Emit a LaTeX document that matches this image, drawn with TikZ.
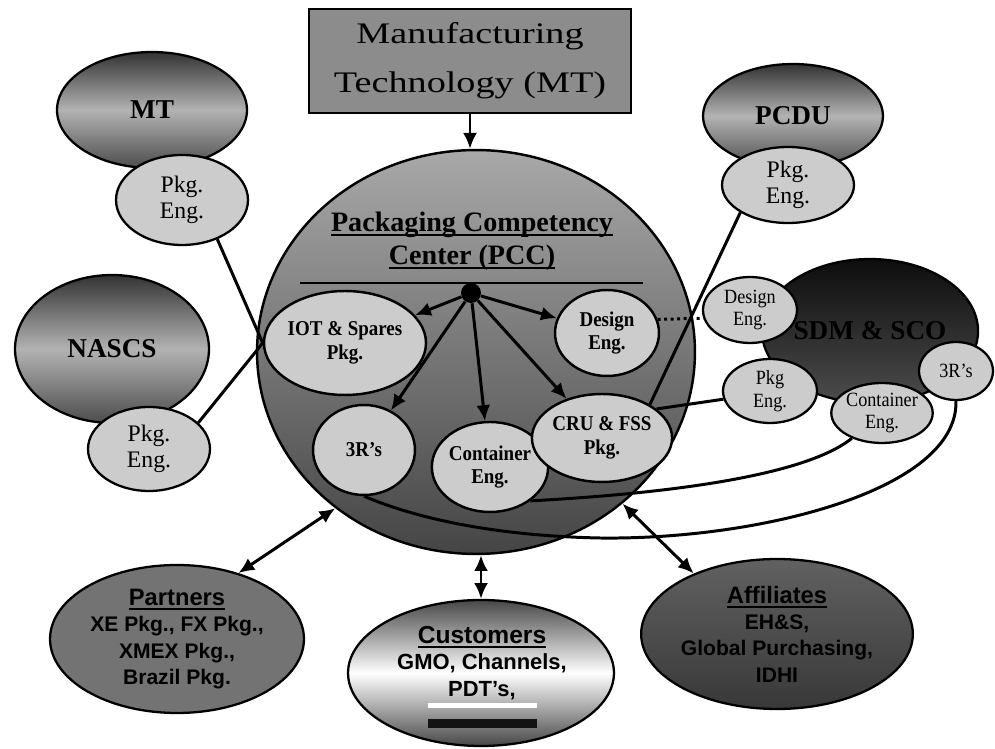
\documentclass[tikz,border=0pt]{standalone}
\usepackage{fontspec}
\setmainfont{Liberation Serif}
\newfontfamily\arialfont{Liberation Sans}
\newfontfamily\widefont[FakeStretch=1.28]{Liberation Serif}
\newfontfamily\narrowfont[FakeStretch=0.9]{Liberation Serif}
\usetikzlibrary{shapes.geometric,arrows.meta}

\newsavebox{\undlbox}
\newcommand{\undl}[1]{\sbox{\undlbox}{#1}\rlap{\rule[-2.6pt]{\wd\undlbox}{1.1pt}}\usebox{\undlbox}}

\definecolor{boxgray}{gray}{0.55}
\definecolor{lightfill}{gray}{0.8}
\definecolor{shadetop}{gray}{0.2}
\definecolor{shademid}{gray}{0.7}
\definecolor{shadebot}{gray}{0.3}
\definecolor{pcctop}{gray}{0.66}
\definecolor{pccbot}{gray}{0.27}
\definecolor{partnergray}{gray}{0.45}
\definecolor{custdark}{gray}{0.28}
\definecolor{afftop}{gray}{0.38}
\definecolor{affbot}{gray}{0.22}

\begin{document}
\begin{tikzpicture}[x=0.02cm,y=-0.02cm,
    outer/.style={ellipse,draw,line width=1.3pt,inner sep=0pt,
      top color=shadetop,bottom color=shadebot,middle color=shademid,
      font=\fontsize{15.5}{18}\selectfont\bfseries},
    pkgeng/.style={ellipse,draw,line width=1.3pt,inner sep=0pt,fill=lightfill,
      align=center,font=\fontsize{13.5}{15}\selectfont},
    sdmsub/.style={ellipse,draw,line width=1.3pt,inner sep=0pt,fill=lightfill,
      align=center,font=\narrowfont\fontsize{11.5}{13}\selectfont},
    unit/.style={ellipse,draw,line width=1.4pt,inner sep=0pt,fill=lightfill,
      align=center,font=\narrowfont\fontsize{12}{13.5}\selectfont\bfseries},
    group/.style={ellipse,draw,line width=1.3pt,inner sep=0pt,align=center,
      font=\arialfont\bfseries\fontsize{12}{15}\selectfont},
    conn/.style={line width=1.7pt},
    arr/.style={conn,-{Latex[length=9pt,width=8pt]}},
    dbl/.style={conn,{Latex[length=9pt,width=8pt]}-{Latex[length=9pt,width=8pt]}}]
  \useasboundingbox (0,0) rectangle (995,749);

  % Kopf
  \node[draw,line width=1.3pt,fill=boxgray,minimum width=6.44cm,minimum height=2.08cm,
    align=center,font=\widefont\fontsize{17}{28}\selectfont]
    (mtbox) at (470,61) {Manufacturing\\Technology (MT)};

  % linke Gruppen
  \node[outer,minimum width=3.8cm,minimum height=2.32cm] (mt) at (152,110) {MT};
  \node[pkgeng,minimum width=2.64cm,minimum height=1.8cm] (mtpkg) at (182,200) {Pkg.\\Eng.};
  \node[outer,minimum width=3.88cm,minimum height=2.96cm] (nascs) at (112,349) {NASCS};
  \node[pkgeng,minimum width=2.44cm,minimum height=1.68cm] (nascspkg) at (149,449) {Pkg.\\Eng.};

  % rechte Gruppen
  \node[outer,minimum width=3.6cm,minimum height=2.08cm] (pcdu) at (793,116) {PCDU};
  \node[pkgeng,minimum width=2.64cm,minimum height=1.52cm] (pcdupkg) at (788,185) {Pkg.\\Eng.};
  \node[outer,minimum width=3.96cm,minimum height=2.88cm,top color=gray!10!black]
    (sdm) at (870,331) {SDM \& SCO};
  \node[sdmsub,minimum width=1.88cm,minimum height=1.32cm] (sdmdesign) at (750,310) {Design\\Eng.};
  \node[sdmsub,minimum width=1.88cm,minimum height=1.28cm] (sdmpkg) at (770,391) {Pkg\\Eng.};
  \node[sdmsub,minimum width=1.88cm,minimum height=1.2cm] (sdmcont) at (882,413) {Container\\Eng.};
  \node[sdmsub,minimum width=1.48cm,minimum height=1.16cm] (sdmthree) at (956,371) {3R’s};

  % PCC
  \node[ellipse,draw,line width=1.4pt,top color=pcctop,bottom color=pccbot,
    minimum width=8.76cm,minimum height=8.08cm] (pcc) at (476,352) {};
  \node[align=center,font=\fontsize{16}{19}\selectfont\bfseries] (pcctitle) at (472,241)
    {\undl{Packaging Competency}\\\undl{Center (PCC)}};
  \draw[line width=1.6pt] (300,283) -- (643,283);
  \node[circle,fill=black,minimum size=0.4cm,inner sep=0pt] (hub) at (471,293) {};

  \node[unit,minimum width=2.48cm,minimum height=2.08cm] (iot) at (345,343) {IOT \& Spares\\Pkg.};
  \node[unit,minimum width=2.08cm,minimum height=1.72cm] (design) at (607,333) {Design\\Eng.};
  \node[unit,minimum width=2.04cm,minimum height=1.8cm] (three) at (364,450) {3R’s};
  \node[unit,minimum width=2.24cm,minimum height=1.8cm] (cont) at (490,467) {Container\\Eng.};
  \node[unit,minimum width=2.2cm,minimum height=1.76cm] (cru) at (602,438) {CRU \& FSS\\Pkg.};

  % untere Gruppen
  \node[group,fill=partnergray,minimum width=5.08cm,minimum height=2.96cm] (partners) at (177,639)
    {{\fontsize{13.5}{15}\selectfont\undl{Partners}}\\XE Pkg., FX Pkg.,\\XMEX Pkg.,\\Brazil Pkg.};
  \node[group,top color=custdark,bottom color=custdark,middle color=white,
    minimum width=5.32cm,minimum height=2.92cm] (cust) at (481,673) {};
  \node[align=center,font=\arialfont\bfseries\fontsize{12.5}{15}\selectfont] (custtext) at (482,663)
    {{\fontsize{14}{15}\selectfont\undl{Customers}}\\GMO, Channels,\\PDT’s,};
  \fill[white] (428,703) rectangle (537,708);
  \fill[gray!15!black] (428,719) rectangle (537,728);
  \node[group,top color=afftop,bottom color=affbot,minimum width=5.08cm,minimum height=3cm]
    (aff) at (777,634)
    {{\fontsize{13.5}{15}\selectfont\undl{Affiliates}}\\EH\&S,\\Global Purchasing,\\IDHI};

  % Verbindungen
  \draw[arr] (mtbox.south) -- (mtbox.south |- pcc.north);
  \foreach \u in {iot,design,three,cont,cru}
    \draw[arr] (hub) -- (\u);
  \draw[conn] (mtpkg.-48) -- (iot.west);
  \draw[conn] (nascspkg.28) -- (iot.west);
  \draw[conn] (pcdupkg.-150) -- (cru.35);
  \draw[conn] (sdmpkg.190) -- (cru.28);
  \draw[conn,dotted] (design.15) -- (sdmdesign.190);
  \draw[conn] (sdmcont.-140) .. controls (800,480) and (640,495) .. (cont.-40);
  \draw[conn] (sdmthree.south) .. controls (958,490) and (760,540) .. (600,538)
    .. controls (500,536) and (420,520) .. (three.south);
  \draw[dbl] (partners.47) -- (pcc.-132);
  \draw[dbl] (cust.north) -- (cust.north |- pcc.south);
  \draw[dbl] (aff.144) -- (pcc.-46);
\end{tikzpicture}
\end{document}
